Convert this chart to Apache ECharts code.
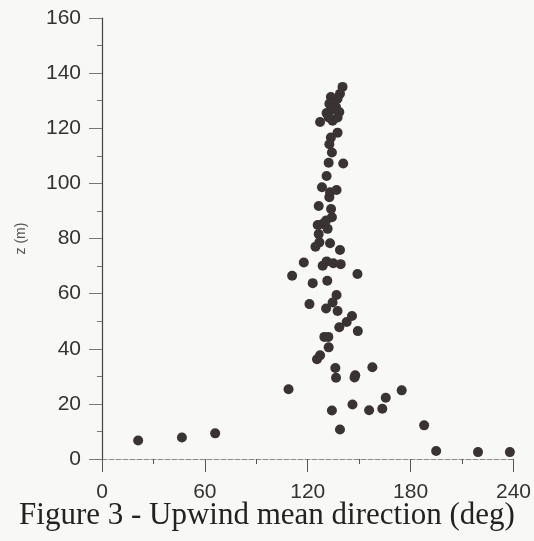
<!DOCTYPE html>
<html>
<head>
<meta charset="utf-8">
<script src="https://cdn.jsdelivr.net/npm/echarts@6/dist/echarts.min.js"></script>
<style>
  html, body { margin: 0; padding: 0; background: #f8f8f6; }
  #chart { width: 534px; height: 541px; }
</style>
</head>
<body>
<div id="chart"></div>
<script>
  // 风向 (deg)
  const direction = [
    140.3, 138.8, 137.4, 133.5, 132.6, 136.5, 138.4, 133.5, 131.0, 127.2,
    132.2, 134.5, 137.4, 137.4, 133.5, 132.6, 134.1, 132.2, 140.7, 131.0,
    128.3, 133.0, 136.8, 132.6, 126.4, 133.6, 134.1, 130.7, 125.8, 128.7,
    131.6, 126.4, 126.8, 124.5, 133.0, 138.8, 117.7, 128.7, 131.0, 134.9,
    139.2,
    110.9, 122.9, 131.4, 149.0, 136.8, 121.0, 130.7, 134.5, 137.4, 145.8,
    142.7, 138.4, 149.2, 129.7, 132.0, 132.2, 127.2, 125.4, 136.1, 157.7,
    147.7, 147.3, 136.5,
    21.1, 46.6, 66.0, 108.8, 134.1, 138.8, 146.1, 155.8, 163.5, 165.5,
    174.8, 187.9, 194.9, 219.3, 237.9
  ]
  // 高度 z (m)
  const height = [
    135.0, 132.5, 130.7, 131.3, 128.9, 127.7, 125.9, 126.5, 125.5, 122.3,
    123.9, 122.7, 123.9, 118.4, 116.6, 114.2, 111.2, 107.5, 107.2, 102.7,
    98.6, 96.8, 97.6, 95.0, 91.8, 90.7, 87.7, 86.5, 84.9, 85.3,
    83.5, 81.6, 78.6, 77.0, 78.3, 75.8, 71.3, 70.1, 71.7, 71.0,
    70.7,
    66.5, 63.8, 64.7, 67.1, 59.5, 56.2, 54.6, 56.8, 53.7, 51.9,
    49.7, 47.8, 46.4, 44.3, 44.3, 40.5, 37.6, 36.2, 33.0, 33.3,
    30.4, 29.6, 29.5,
    6.7, 7.8, 9.3, 25.3, 17.6, 10.7, 19.8, 17.7, 18.2, 22.2,
    24.9, 12.2, 2.9, 2.5, 2.5
  ]
  const xTicks = [0, 240, 60]   // min, max, interval
  const yTicks = [0, 160, 20]
  const caption = 'Figure 3 - Upwind mean direction (deg)'

  let points = direction.map((d, i) => [d, height[i]])

  let myChart = echarts.init(document.getElementById('chart'), null, {renderer: 'canvas'})
  let labelFont = {fontFamily: 'Liberation Sans', fontSize: 21, color: '#333'}

  let option = {
    backgroundColor: '#f8f8f6',
    animation: false,
    grid: {left: 102, right: 19, top: 18, bottom: 82, containLabel: false},
    xAxis: {
      type: 'value',
      min: xTicks[0], max: xTicks[1], interval: xTicks[2],
      axisLine: {show: true, onZero: false, lineStyle: {color: '#8a8a8a', width: 1, type: [5, 2]}},
      axisTick: {show: true, inside: false, length: 13, lineStyle: {color: '#555'}},
      minorTick: {show: true, splitNumber: 2, length: 5, lineStyle: {color: '#555'}},
      splitLine: {show: false},
      axisLabel: Object.assign({margin: 23}, labelFont)
    },
    yAxis: {
      type: 'value',
      min: yTicks[0], max: yTicks[1], interval: yTicks[2],
      name: 'z (m)',
      nameLocation: 'middle',
      nameRotate: 90,
      nameGap: 74,
      nameTextStyle: {fontFamily: 'Liberation Sans', fontSize: 14, color: '#555'},
      axisLine: {show: true, onZero: false, lineStyle: {color: '#444', width: 1.2}},
      axisTick: {show: true, inside: false, length: 13, lineStyle: {color: '#777'}},
      minorTick: {show: true, splitNumber: 2, length: 5, lineStyle: {color: '#777'}},
      splitLine: {show: false},
      axisLabel: Object.assign({margin: 21}, labelFont)
    },
    series: [{
      type: 'scatter',
      data: points,
      symbol: 'circle',
      symbolSize: 10,
      itemStyle: {color: '#3a3333', opacity: 1}
    }],
    graphic: {
      elements: [{
        type: 'text',
        left: 'center',
        top: 500,
        style: {
          text: caption,
          font: '31px "Liberation Serif"',
          fill: '#222'
        }
      }]
    }
  }
  myChart.setOption(option)
</script>
</body>
</html>
